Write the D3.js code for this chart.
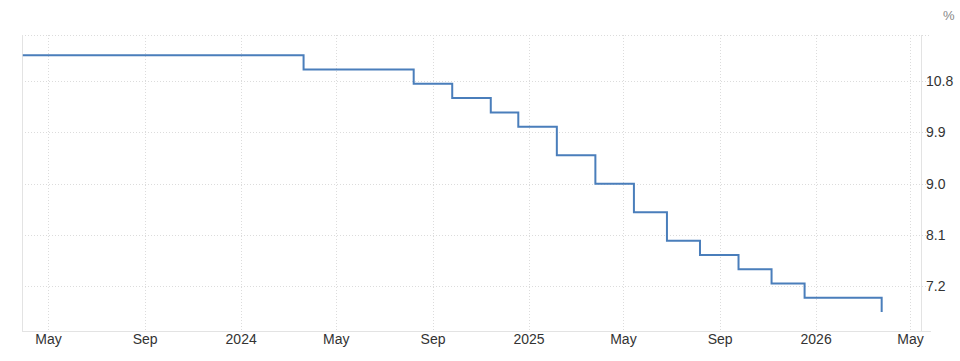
<!DOCTYPE html>
<html>
<head>
<meta charset="utf-8">
<script src="https://cdn.jsdelivr.net/npm/d3@7"></script>
<style>
  body { margin: 0; background: #fff; }
  text { font-family: "Liberation Sans", Arial, sans-serif; }
</style>
</head>
<body>
<div id="chart"></div>
<script>
// rate decisions (date of change, new level in %)
var rateDates = ["2023-03-30", "2024-03-21", "2024-08-08", "2024-09-26", "2024-11-14",
  "2024-12-19", "2025-02-06", "2025-03-27", "2025-05-15", "2025-06-26", "2025-08-07",
  "2025-09-25", "2025-11-06", "2025-12-18", "2026-03-26"];
var rateValues = [11.25, 11.0, 10.75, 10.5, 10.25, 10.0, 9.5, 9.0, 8.5, 8.0, 7.75, 7.5, 7.25, 7.0, 6.75];

var xTickDates = ["2023-05-01", "2023-09-01", "2024-01-01", "2024-05-01", "2024-09-01",
  "2025-01-01", "2025-05-01", "2025-09-01", "2026-01-01", "2026-05-01"];
var xTickLabels = ["May", "Sep", "2024", "May", "Sep", "2025", "May", "Sep", "2026", "May"];
var yTicks = [7.2, 8.1, 9.0, 9.9, 10.8];

var svgWidth = 960, svgHeight = 361;
var margin = { top: 35, right: 39, bottom: 30, left: 22 };
var width = svgWidth - margin.left - margin.right;
var height = svgHeight - margin.top - margin.bottom;

var parse = d3.timeParse("%Y-%m-%d");
var data = rateDates.map((d, i) => ({ date: parse(d), value: rateValues[i] }));

var svg = d3.select("#chart").append("svg")
  .attr("width", svgWidth)
  .attr("height", svgHeight);

var g = svg.append("g")
  .attr("transform", `translate(${margin.left}, ${margin.top})`);

var x = d3.scaleTime()
  .domain([parse("2023-03-29"), parse("2026-05-15")])
  .range([0, width]);

var y = d3.scaleLinear()
  .domain([6.416, 11.607])
  .range([height, 0]);

// horizontal grid
g.append("g").selectAll("line")
  .data(yTicks.concat([y.domain()[1]]))
  .enter().append("line")
  .attr("x1", 0).attr("x2", width + 10)
  .attr("y1", d => Math.round(y(d)) + 0.5).attr("y2", d => Math.round(y(d)) + 0.5)
  .attr("stroke", "#dcdcdc")
  .attr("stroke-dasharray", "1,2");

// vertical grid
g.append("g").selectAll("line")
  .data(xTickDates)
  .enter().append("line")
  .attr("x1", d => Math.round(x(parse(d))) + 0.5).attr("x2", d => Math.round(x(parse(d))) + 0.5)
  .attr("y1", 0).attr("y2", height)
  .attr("stroke", "#dcdcdc")
  .attr("stroke-dasharray", "1,2");

// frame lines
g.append("line").attr("x1", 0.5).attr("x2", 0.5).attr("y1", 0).attr("y2", height)
  .attr("stroke", "#e3e3e3");
g.append("line").attr("x1", width + 0.5).attr("x2", width + 0.5).attr("y1", 0).attr("y2", height)
  .attr("stroke", "#e3e3e3");
g.append("line").attr("x1", 0).attr("x2", width + 10).attr("y1", height + 0.5).attr("y2", height + 0.5)
  .attr("stroke", "#e3e3e3");

// x axis labels
var xAxis = d3.axisBottom(x)
  .tickValues(xTickDates.map(parse))
  .tickFormat((d, i) => xTickLabels[i])
  .tickSize(0)
  .tickPadding(3);
var xg = g.append("g")
  .attr("transform", `translate(0, ${height})`)
  .call(xAxis);
xg.select(".domain").remove();
xg.selectAll("text").attr("font-size", 14).attr("fill", "#333")
  .style("font-family", "'Liberation Sans', Arial, sans-serif");

// y axis labels on the right
var yAxis = d3.axisRight(y)
  .tickValues(yTicks)
  .tickFormat(d3.format(".1f"))
  .tickSize(0)
  .tickPadding(5);
var yg = g.append("g")
  .attr("transform", `translate(${width}, 0)`)
  .call(yAxis);
yg.select(".domain").remove();
yg.selectAll("text").attr("font-size", 14).attr("fill", "#333")
  .style("font-family", "'Liberation Sans', Arial, sans-serif");

svg.append("text")
  .attr("x", 943).attr("y", 20)
  .attr("font-size", 13)
  .attr("fill", "#888")
  .text("%");

// rate line
var line = d3.line()
  .x(d => x(d.date))
  .y(d => y(d.value))
  .curve(d3.curveStepAfter);

g.append("path")
  .datum(data)
  .attr("fill", "none")
  .attr("stroke", "#4a7ebb")
  .attr("stroke-width", 2)
  .attr("d", line);
</script>
</body>
</html>
